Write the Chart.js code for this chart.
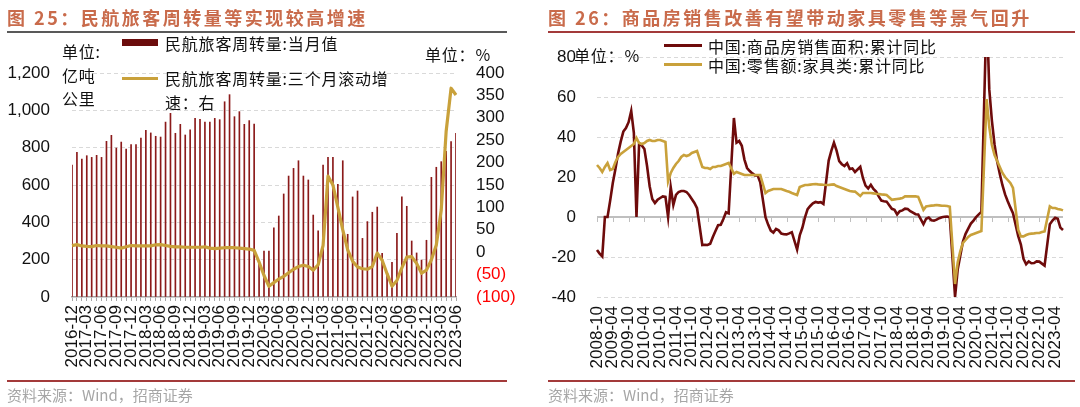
<!DOCTYPE html>
<html><head><meta charset="utf-8">
<script src="https://cdn.jsdelivr.net/npm/chart.js@4.4.0/dist/chart.umd.min.js"></script>
<style>
html,body{margin:0;padding:0;background:#fff;width:1080px;height:407px;overflow:hidden;position:relative;}
canvas{position:absolute;top:0;}
.t{position:absolute;white-space:nowrap;font-family:"Noto Sans CJK SC","Noto Sans",sans-serif;color:#111;z-index:5;}
.title{font-size:18px;font-weight:bold;color:#C96B4B;top:4px;letter-spacing:2.5px;}
.rule{position:absolute;z-index:5;}
.src{font-size:15px;color:#A6A6A6;top:384px;}
.lg{font-size:16px;letter-spacing:0.8px;}
</style></head>
<body>
<canvas id="cL" width="540" height="407" style="left:0"></canvas>
<canvas id="cR" width="540" height="407" style="left:540px"></canvas>

<div class="t title" style="left:7px">图 25：民航旅客周转量等实现较高增速</div>
<div class="rule" style="left:7px;top:31px;width:500px;height:1.5px;background:#595959"></div>
<div class="t lg" style="left:62px;top:40px;line-height:23.5px">单位:<br>亿吨<br>公里</div>
<div class="rule" style="left:122px;top:39px;width:36px;height:7px;background:#6B0C0C"></div>
<div class="t lg" style="left:165px;top:31px">民航旅客周转量:当月值</div>
<div class="rule" style="left:122px;top:77px;width:36px;height:3px;background:#C9A13B"></div>
<div class="t lg" style="left:165px;top:67px;line-height:23.5px">民航旅客周转量:三个月滚动增<br>速：右</div>
<div class="t lg" style="left:425px;top:42px">单位：%</div>
<div class="rule" style="left:7px;top:380px;width:500px;height:1.5px;background:#A33A3A"></div>
<div class="t src" style="left:7px">资料来源：Wind，招商证券</div>

<div class="t title" style="left:548px">图 26：商品房销售改善有望带动家具零售等景气回升</div>
<div class="rule" style="left:548px;top:31px;width:527px;height:1.5px;background:#A33A3A"></div>
<div class="t lg" style="left:574px;top:43px">单位：%</div>
<div class="rule" style="left:664px;top:44px;width:38px;height:3px;background:#6E0B0B"></div>
<div class="t lg" style="left:708px;top:34px">中国:商品房销售面积:累计同比</div>
<div class="rule" style="left:664px;top:63px;width:38px;height:3px;background:#C9A13B"></div>
<div class="t lg" style="left:708px;top:53px">中国:零售额:家具类:累计同比</div>
<div class="rule" style="left:548px;top:380px;width:527px;height:1.5px;background:#A33A3A"></div>
<div class="t src" style="left:548px">资料来源：Wind，招商证券</div>

<script>
// ---------- Chart 25 data ----------
const monthsL = ['2016-12',
 '2017-01','2017-02','2017-03','2017-04','2017-05','2017-06','2017-07','2017-08','2017-09','2017-10','2017-11','2017-12',
 '2018-01','2018-02','2018-03','2018-04','2018-05','2018-06','2018-07','2018-08','2018-09','2018-10','2018-11','2018-12',
 '2019-01','2019-02','2019-03','2019-04','2019-05','2019-06','2019-07','2019-08','2019-09','2019-10','2019-11','2019-12',
 '2020-01','2020-02','2020-03','2020-04','2020-05','2020-06','2020-07','2020-08','2020-09','2020-10','2020-11','2020-12',
 '2021-01','2021-02','2021-03','2021-04','2021-05','2021-06','2021-07','2021-08','2021-09','2021-10','2021-11','2021-12',
 '2022-01','2022-02','2022-03','2022-04','2022-05','2022-06','2022-07','2022-08','2022-09','2022-10','2022-11','2022-12',
 '2023-01','2023-02','2023-03','2023-04','2023-05','2023-06'];
const passengerTurnover = [707,
 775,739,757,748,759,748,834,866,798,830,793,816,
 816,852,893,879,861,857,937,984,877,925,868,895,
 957,952,937,937,957,950,1046,1084,966,993,925,945,
 927,180,246,246,370,434,552,648,689,730,648,627,
 439,354,707,748,748,604,730,336,536,568,314,404,
 454,482,234,120,186,341,536,486,300,236,198,304,
 641,695,725,780,832,877];
const rolling3mGrowth = [14.6,
 17,14,13,12.5,15,14,14,12.5,11,9,12,15,
 14,14,14,14,16.5,17,15,13,12,12,11,11,
 11,11,12,9,8,9,10,10,10,9,8,7,
 4,-22,-52,-76,-68,-60,-54,-46,-38,-32,-29,-32,
 -40,-28,15,170,150,100,50,5,-20,-33,-37,-38,
 -32,-2,-18,-48,-76,-63,-35,-11,-10,-25,-47,-40,
 -17,16,94,270,366,351];
const leftTicksL = [0,200,400,600,800,1000,1200];
const rightTicksL = [-100,-50,0,50,100,150,200,250,300,350,400];

// ---------- Chart 26 data ----------
const monthsR = ['2008-10','2008-11','2008-12',
 '2009-01','2009-02','2009-03','2009-04','2009-05','2009-06','2009-07','2009-08','2009-09','2009-10','2009-11','2009-12',
 '2010-01','2010-02','2010-03','2010-04','2010-05','2010-06','2010-07','2010-08','2010-09','2010-10','2010-11','2010-12',
 '2011-01','2011-02','2011-03','2011-04','2011-05','2011-06','2011-07','2011-08','2011-09','2011-10','2011-11','2011-12',
 '2012-01','2012-02','2012-03','2012-04','2012-05','2012-06','2012-07','2012-08','2012-09','2012-10','2012-11','2012-12',
 '2013-01','2013-02','2013-03','2013-04','2013-05','2013-06','2013-07','2013-08','2013-09','2013-10','2013-11','2013-12',
 '2014-01','2014-02','2014-03','2014-04','2014-05','2014-06','2014-07','2014-08','2014-09','2014-10','2014-11','2014-12',
 '2015-01','2015-02','2015-03','2015-04','2015-05','2015-06','2015-07','2015-08','2015-09','2015-10','2015-11','2015-12',
 '2016-01','2016-02','2016-03','2016-04','2016-05','2016-06','2016-07','2016-08','2016-09','2016-10','2016-11','2016-12',
 '2017-01','2017-02','2017-03','2017-04','2017-05','2017-06','2017-07','2017-08','2017-09','2017-10','2017-11','2017-12',
 '2018-01','2018-02','2018-03','2018-04','2018-05','2018-06','2018-07','2018-08','2018-09','2018-10','2018-11','2018-12',
 '2019-01','2019-02','2019-03','2019-04','2019-05','2019-06','2019-07','2019-08','2019-09','2019-10','2019-11','2019-12',
 '2020-01','2020-02','2020-03','2020-04','2020-05','2020-06','2020-07','2020-08','2020-09','2020-10','2020-11','2020-12',
 '2021-01','2021-02','2021-03','2021-04','2021-05','2021-06','2021-07','2021-08','2021-09','2021-10','2021-11','2021-12',
 '2022-01','2022-02','2022-03','2022-04','2022-05','2022-06','2022-07','2022-08','2022-09','2022-10','2022-11','2022-12',
 '2023-01','2023-02','2023-03','2023-04','2023-05','2023-06','2023-07'];
const salesAreaYoY = [-16.5,-18.3,-19.7,
 0,0,8.2,17,24,31.7,37.7,42.7,44.5,47.4,53,42.1,
 0,36.9,35.8,34,25.6,15.4,9,7,8.6,9.5,10.3,10.1,
 0,14.9,6,11,12.5,13,13,12.5,11,9,7,4.4,
 null,-14,-13.9,-14,-13.4,-10,-7,-4.1,-3.9,-1,2.4,1.8,
 null,49.5,37.1,38,35.6,28.7,24.5,23,21.8,20.8,20.8,17.3,
 null,-0.1,-3.8,-6.8,-7.8,-6,-6.7,-8.3,-8.6,-8.7,-8.2,-7.6,
 null,-16.3,-9.2,-5.4,-0.2,3.9,5.5,6.8,7.5,7.2,7.4,6.5,
 null,28.2,33.1,37.2,33.2,27.9,26.4,25.5,26.9,24,24.3,22.5,
 null,25.1,19.5,15.7,14.3,16.1,14,12.7,10.3,8.2,7.9,7.7,
 null,4.1,3.6,1.3,2.9,3.3,4.2,4,2.9,2.2,1.4,1.3,
 null,-3.6,-0.9,-0.3,-1.6,-1.8,-1.3,-0.6,-0.1,0.1,0.2,-0.1,
 null,-39.9,-26.3,-19.3,-12.3,-8.4,-5.8,-3.3,-1.8,0,1.3,2.6,
 null,104.9,63.8,48.1,36.3,27.7,21.5,15.9,11.3,7.9,4.8,1.9,
 null,-9.6,-13.8,-20.9,-23.6,-22.2,-23.1,-23,-22.2,-22.3,-23.3,-24.3,
 null,-3.6,-1.8,-0.4,-0.9,-5.3,-6.5];
const furnitureYoY = [26,24.5,22.5,
 25,27,23.5,24,27.5,30,31.5,32.5,33.5,34.5,35.5,36.5,
 39.5,37,36.5,37,38,38.5,38,38,38.5,38.5,38,37.5,
 17.8,22,24.5,26.5,28,30,31,30.5,31,32,32.5,33,
 null,25,24.5,24.5,24,25,25,25.5,25.5,26,26.5,27,
 null,21.6,22.5,22,21.5,21,21,21,21,21,21,21,
 null,12,13,13.5,14,14,14,14,13.5,13,12.6,12,
 null,11,15,15.5,16,16,16.2,16.4,16.5,16.3,16.2,16.1,
 null,16,16.2,16.3,15.5,15,14.5,14,13.5,13,12.8,12.7,
 null,10.5,12,12,12,12,11.8,11.6,11.5,11.3,11.2,11,
 null,8.6,8.8,9,9.2,9.5,10.3,10.3,10.3,10.3,10.3,10.1,
 null,3.6,5.3,5.5,5.7,5.8,6,5.8,5.6,5.6,5.5,5.1,
 null,-33.5,-22.7,-17,-13,-11.5,-10,-9,-8.5,-8,-7.5,-7,
 null,59,45,36,31,28,25,22,20,18.5,17,14.5,
 null,-6.5,-9.7,-9.7,-9,-8.5,-8.3,-8.2,-8,-8,-7.5,-7.2,
 null,5.3,4.5,4.5,4,3.8,3.3];
const yTicksR = [-40,-20,0,20,40,60,80];

// ---------- drawing ----------
Chart.defaults.font.family = '"Liberation Sans", Arial, sans-serif';
Chart.defaults.color = '#111';
const GOLD = '#C9A13B', MAROON = '#6E0B0B', BAR = '#8B1A1A';
const gridColor = c => (c.tick && c.tick.value === 0) ? 'rgba(0,0,0,0)' : '#D9D9D9';
const noSidePad = s => { s.paddingLeft = 0; s.paddingRight = 0; };

new Chart(document.getElementById('cL'), {
  data: {
    labels: monthsL,
    datasets: [
      {type:'line', data: rolling3mGrowth, yAxisID:'y1', borderColor: GOLD, borderWidth:3.2,
       pointRadius:0, tension:0, order:0, borderJoinStyle:'round'},
      {type:'bar', data: passengerTurnover, yAxisID:'y', backgroundColor: BAR,
       barThickness:1, order:1}
    ]
  },
  options: {
    responsive:false, animation:false,
    layout:{padding:{top:73, left:0, right:0, bottom:0}},
    plugins:{legend:{display:false}, tooltip:{enabled:false}},
    scales:{
      x:{offset:false,
         grid:{offset:false, drawOnChartArea:false, drawTicks:true, tickLength:4, color:'#A6A6A6'},
         border:{display:true, color:'#A6A6A6', width:1.5},
         ticks:{autoSkip:false, maxRotation:90, minRotation:90, padding:4, font:{size:17}, color:'#111',
                callback:(v,i)=> i%3===0 ? monthsL[i] : ''},
         afterFit:s=>{s.height=110; noSidePad(s);}},
      y:{position:'left', min:0, max:1200,
         afterBuildTicks:s=>{s.ticks = leftTicksL.map(v=>({value:v}));},
         ticks:{autoSkip:false, padding:22, font:{size:17}, color:'#111', callback:v=>v.toLocaleString('en-US')},
         grid:{color:gridColor, drawTicks:false, lineWidth:1},
         border:{display:false, dash:[4,3]},
         afterFit:s=>{s.width=72;}},
      y1:{position:'right', min:-100, max:400,
         afterBuildTicks:s=>{s.ticks = rightTicksL.map(v=>({value:v}));},
         ticks:{autoSkip:false, padding:20, font:{size:17},
                color:c=> (c.tick && c.tick.value<0) ? '#FF0000' : '#111',
                callback:v=> v<0 ? '('+(-v)+')' : String(v)},
         grid:{display:false, drawTicks:false},
         border:{display:false},
         afterFit:s=>{s.width=84;}}
    }
  }
});

const zeroAxisPlugin = {
  id:'zeroAxis',
  beforeDatasetsDraw(chart){
    const {ctx, chartArea:a, scales:{x, y}} = chart;
    const y0 = y.getPixelForValue(0);
    ctx.save();
    ctx.strokeStyle = '#BFBFBF';
    ctx.lineWidth = 2;
    ctx.beginPath(); ctx.moveTo(a.left, y0); ctx.lineTo(a.right, y0); ctx.stroke();
    ctx.lineWidth = 1;
    ctx.beginPath();
    monthsR.forEach((m,i)=>{ if(i%6===0){ const px = Math.round(x.getPixelForValue(i))+0.5; ctx.moveTo(px, y0); ctx.lineTo(px, y0+5);} });
    ctx.stroke();
    ctx.restore();
  }
};

new Chart(document.getElementById('cR'), {
  type:'line',
  data:{
    labels: monthsR,
    datasets:[
      {data: salesAreaYoY, borderColor: MAROON, borderWidth:2.6, pointRadius:0, spanGaps:true, tension:0, order:1},
      {data: furnitureYoY, borderColor: GOLD, borderWidth:2.6, pointRadius:0, spanGaps:true, tension:0, order:0}
    ]
  },
  options:{
    responsive:false, animation:false,
    layout:{padding:{top:57, left:0, right:17, bottom:0}},
    plugins:{legend:{display:false}, tooltip:{enabled:false}},
    scales:{
      x:{offset:false,
         grid:{display:false, drawTicks:false},
         border:{display:false},
         ticks:{autoSkip:false, maxRotation:90, minRotation:90, padding:9, font:{size:17}, color:'#111',
                callback:(v,i)=> i%6===0 ? monthsR[i] : ''},
         afterFit:s=>{s.height=110; noSidePad(s);}},
      y:{min:-40, max:80,
         afterBuildTicks:s=>{s.ticks = yTicksR.map(v=>({value:v}));},
         ticks:{autoSkip:false, padding:21, font:{size:17}, color:'#111'},
         grid:{color:gridColor, drawTicks:false, lineWidth:1},
         border:{display:false, dash:[4,3]},
         afterFit:s=>{s.width=57;}}
    }
  },
  plugins:[zeroAxisPlugin]
});
</script>
</body></html>
